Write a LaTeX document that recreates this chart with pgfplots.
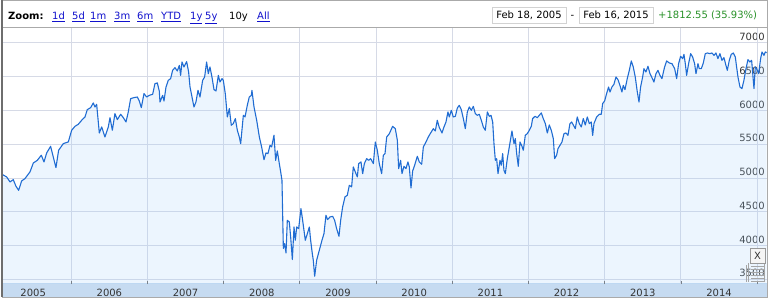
\documentclass[border=0pt]{standalone}
\usepackage{fontspec}
\setmainfont{DejaVu Sans}
\usepackage{pgfplots}
\pgfplotsset{compat=1.18}
\usepackage{pgfplotstable}

\definecolor{lineblue}{RGB}{32,108,210}
\definecolor{fillbase}{RGB}{160,205,250}
\definecolor{gridc}{RGB}{214,218,230}
\definecolor{bandblue}{RGB}{198,219,241}
\definecolor{linkblue}{RGB}{17,17,204}
\definecolor{upgreen}{RGB}{40,145,40}
\definecolor{framec}{RGB}{170,170,170}
\definecolor{framedark}{RGB}{110,110,110}
\definecolor{textgray}{RGB}{51,51,51}
\definecolor{boxgray}{RGB}{210,210,210}

\pgfplotstableread{
year close
2005.099 5050
2005.152 5016
2005.196 4942
2005.239 4976
2005.274 4878
2005.309 4818
2005.349 4957
2005.392 4991
2005.458 5090
2005.502 5223
2005.554 5262
2005.607 5337
2005.642 5238
2005.677 5371
2005.729 5470
2005.764 5312
2005.799 5154
2005.834 5411
2005.895 5509
2005.961 5534
2006.005 5707
2006.049 5766
2006.092 5796
2006.136 5855
2006.180 5904
2006.210 6013
2006.254 6042
2006.289 6112
2006.311 6052
2006.333 6092
2006.368 5667
2006.399 5756
2006.442 5608
2006.486 5756
2006.508 5894
2006.539 5707
2006.573 5954
2006.604 5865
2006.648 5944
2006.683 5894
2006.718 5830
2006.748 5978
2006.779 6176
2006.823 6191
2006.867 6200
2006.893 6141
2006.919 6042
2006.954 6250
2006.989 6200
2007.024 6225
2007.068 6240
2007.098 6398
2007.129 6408
2007.155 6289
2007.164 6126
2007.199 6225
2007.217 6141
2007.243 6348
2007.273 6447
2007.304 6472
2007.330 6595
2007.361 6635
2007.391 6585
2007.418 6669
2007.435 6521
2007.453 6719
2007.479 6645
2007.514 6724
2007.540 6571
2007.558 6350
2007.580 6225
2007.610 6052
2007.636 6126
2007.663 6299
2007.689 6200
2007.724 6447
2007.750 6497
2007.776 6719
2007.798 6546
2007.820 6645
2007.846 6497
2007.873 6309
2007.899 6289
2007.930 6521
2007.951 6422
2007.978 6472
2007.995 6447
2008.021 6250
2008.048 5904
2008.074 6028
2008.100 5781
2008.126 5806
2008.153 5880
2008.179 5707
2008.205 5608
2008.223 5509
2008.258 5929
2008.280 5904
2008.310 6077
2008.336 6200
2008.363 6225
2008.371 6299
2008.398 6052
2008.433 5855
2008.468 5608
2008.498 5460
2008.529 5272
2008.555 5371
2008.581 5361
2008.608 5485
2008.629 5460
2008.660 5633
2008.682 5262
2008.704 5401
2008.730 5213
2008.748 5090
2008.765 4966
2008.783 3956
2008.800 4029
2008.818 3890
2008.835 4374
2008.861 4349
2008.879 4127
2008.901 3792
2008.923 4275
2008.940 4078
2008.958 4275
2008.984 4251
2009.014 4547
2009.036 4374
2009.071 4078
2009.098 4176
2009.124 4275
2009.141 4078
2009.163 3880
2009.176 3782
2009.194 3545
2009.220 3782
2009.255 3930
2009.290 4078
2009.316 4176
2009.342 4448
2009.364 4384
2009.395 4423
2009.430 4433
2009.456 4374
2009.482 4251
2009.513 4137
2009.535 4374
2009.561 4571
2009.592 4720
2009.622 4744
2009.649 4892
2009.679 4868
2009.701 5164
2009.727 5090
2009.754 5016
2009.771 5213
2009.802 5238
2009.824 5065
2009.846 5213
2009.876 5287
2009.902 5262
2009.929 5287
2009.964 5213
2009.990 5534
2010.016 5411
2010.042 5213
2010.073 5065
2010.095 5337
2010.117 5361
2010.139 5608
2010.174 5657
2010.217 5766
2010.252 5731
2010.279 5559
2010.296 5139
2010.322 5262
2010.340 5065
2010.366 5174
2010.392 5139
2010.418 5238
2010.436 5164
2010.458 4853
2010.480 5105
2010.506 5189
2010.541 5322
2010.567 5238
2010.598 5203
2010.620 5460
2010.655 5534
2010.685 5608
2010.716 5667
2010.751 5731
2010.777 5696
2010.803 5855
2010.830 5746
2010.865 5667
2010.891 5756
2010.917 5830
2010.943 5978
2010.961 5904
2010.987 6003
2011.013 5904
2011.040 5914
2011.066 6037
2011.092 6077
2011.118 6013
2011.145 5880
2011.171 5731
2011.197 5978
2011.223 6052
2011.250 6003
2011.276 6062
2011.302 5954
2011.328 5929
2011.355 5944
2011.381 5855
2011.407 5756
2011.433 5707
2011.460 5978
2011.486 5914
2011.508 5929
2011.530 5830
2011.547 5509
2011.565 5262
2011.582 5287
2011.600 5065
2011.626 5262
2011.643 5189
2011.661 5361
2011.678 5114
2011.696 5065
2011.722 5287
2011.748 5460
2011.783 5696
2011.810 5509
2011.827 5583
2011.845 5361
2011.866 5174
2011.888 5534
2011.910 5484
2011.932 5411
2011.958 5633
2011.984 5657
2012.011 5707
2012.037 5766
2012.054 5880
2012.085 5914
2012.116 5894
2012.142 5929
2012.168 5964
2012.194 5880
2012.221 5806
2012.247 5667
2012.273 5786
2012.299 5707
2012.326 5583
2012.343 5287
2012.369 5337
2012.387 5435
2012.413 5484
2012.439 5534
2012.466 5657
2012.492 5667
2012.518 5632
2012.544 5806
2012.566 5830
2012.588 5786
2012.614 5731
2012.640 5904
2012.667 5806
2012.693 5756
2012.719 5880
2012.745 5786
2012.772 5904
2012.798 5806
2012.824 5830
2012.842 5632
2012.859 5806
2012.894 5904
2012.929 5944
2012.955 5944
2012.973 6102
2012.999 6141
2013.025 6250
2013.051 6348
2013.069 6274
2013.095 6348
2013.121 6388
2013.148 6497
2013.174 6457
2013.200 6373
2013.226 6274
2013.244 6373
2013.266 6309
2013.296 6472
2013.323 6595
2013.349 6734
2013.375 6645
2013.401 6497
2013.428 6274
2013.450 6126
2013.471 6348
2013.498 6497
2013.515 6620
2013.541 6571
2013.568 6655
2013.594 6546
2013.620 6487
2013.646 6422
2013.673 6546
2013.699 6595
2013.725 6521
2013.751 6472
2013.786 6645
2013.813 6734
2013.848 6704
2013.883 6694
2013.918 6620
2013.944 6472
2013.970 6694
2013.996 6803
2014.023 6768
2014.040 6832
2014.058 6694
2014.075 6521
2014.101 6694
2014.128 6842
2014.154 6793
2014.180 6694
2014.198 6546
2014.224 6694
2014.241 6620
2014.268 6620
2014.294 6704
2014.320 6842
2014.346 6852
2014.381 6842
2014.408 6852
2014.434 6817
2014.460 6852
2014.486 6768
2014.512 6842
2014.539 6743
2014.565 6783
2014.591 6669
2014.609 6595
2014.635 6743
2014.661 6832
2014.687 6852
2014.714 6793
2014.731 6645
2014.749 6497
2014.775 6348
2014.801 6324
2014.827 6447
2014.854 6620
2014.880 6753
2014.906 6719
2014.928 6743
2014.941 6571
2014.959 6324
2014.976 6645
2014.994 6620
2015.020 6546
2015.046 6768
2015.064 6867
2015.090 6817
2015.107 6867
2015.125 6857
}\ftse

\begin{document}
\begin{tikzpicture}[font=\fontsize{10bp}{12bp}\selectfont]
\useasboundingbox (0bp,0bp) rectangle (772bp,301bp);
% bottom band
\fill[bandblue] (2bp,4bp) rectangle (768bp,17.5bp);
\begin{axis}[
  at={(3bp,17bp)}, anchor=south west,
  scale only axis, width=765bp, height=257bp,
  xmin=2005.104, xmax=2015.143,
  ymin=3430, ymax=7237,
  axis line style={draw=none},
  xtick={2005.5,2006.5,2007.5,2008.5,2009.5,2010.5,2011.5,2012.5,2013.5,2014.5},
  xticklabels={2005,2006,2007,2008,2009,2010,2011,2012,2013,2014},
  xtick pos=left,
  major tick length=0pt,
  xticklabel style={anchor=north, inner sep=0pt, yshift=-4.5bp, text=textgray, font=\fontsize{10bp}{12bp}\selectfont},
  extra x ticks={2006,2007,2008,2009,2010,2011,2012,2013,2014,2015},
  extra x tick labels={},
  extra x tick style={major tick length=3bp, tick align=inside,
     grid=major, tick style={draw=framedark, line width=0.8bp}},
  ytick={3500,4000,4500,5000,5500,6000,6500,7000},
  ymajorgrids,
  grid style={gridc, line width=1bp},
  ytick style={draw=none},
  yticklabel pos=right,
  yticklabel={\pgfmathprintnumber[fixed,precision=0,set thousands separator={},assume math mode=true]{\tick}},
  yticklabel style={anchor=south east, inner sep=0pt, xshift=-3bp, yshift=2bp, text=textgray, font=\fontsize{10bp}{12bp}\selectfont},
]
\addplot[draw=none, fill=fillbase, fill opacity=0.2] table[x=year,y=close] {\ftse} \closedcycle;
\addplot[lineblue, line width=1.1bp, line join=round] table[x=year,y=close] {\ftse};
\end{axis}
% frame
\draw[framec, line width=1bp] (2bp,300.5bp) -- (768bp,300.5bp);
\draw[framec, line width=1bp] (767.5bp,301bp) -- (767.5bp,3.5bp);
\draw[framec, line width=1bp] (2bp,273.5bp) -- (768bp,273.5bp);
\draw[framec, line width=1bp] (2bp,3.5bp) -- (768bp,3.5bp);
\draw[framedark, line width=1.5bp] (2.2bp,301bp) -- (2.2bp,3.5bp);
% header left
\node[anchor=base west, inner sep=0pt] at (8bp,281bp) {\textbf{Zoom:}};
\node[anchor=base west, inner sep=0pt, text=linkblue] at (52bp,281bp) {\underline{1d}};
\node[anchor=base west, inner sep=0pt, text=linkblue] at (72bp,281bp) {\underline{5d}};
\node[anchor=base west, inner sep=0pt, text=linkblue] at (90bp,281bp) {\underline{1m}};
\node[anchor=base west, inner sep=0pt, text=linkblue] at (114bp,281bp) {\underline{3m}};
\node[anchor=base west, inner sep=0pt, text=linkblue] at (137bp,281bp) {\underline{6m}};
\node[anchor=base west, inner sep=0pt, text=linkblue] at (161bp,281bp) {\underline{YTD}};
\node[anchor=base west, inner sep=0pt, text=linkblue] at (190bp,281bp) {\underline{1y}};
\node[anchor=base west, inner sep=0pt, text=linkblue] at (205bp,281bp) {\underline{5y}};
\node[anchor=base west, inner sep=0pt] at (229bp,281bp) {10y};
\node[anchor=base west, inner sep=0pt, text=linkblue] at (257bp,281bp) {\underline{All}};
% header right
\draw[boxgray, fill=white] (492bp,277.7bp) rectangle (566bp,293.7bp);
\node[anchor=base, inner sep=0pt] at (529bp,282bp) {Feb 18, 2005};
\node[anchor=base, inner sep=0pt] at (572.5bp,282bp) {-};
\draw[boxgray, fill=white] (579bp,277.7bp) rectangle (653bp,293.7bp);
\node[anchor=base, inner sep=0pt] at (616bp,282bp) {Feb 16, 2015};
\node[anchor=base west, inner sep=0pt, text=upgreen] at (658bp,282bp) {+1812.55 (35.93\%)};
% small close widget
\foreach \yy in {20,23,26,29,32,35} {\draw[gray!70, line width=0.6bp] (751bp,\yy bp) -- (765bp,\yy bp);}
\draw[gray!70, line width=0.6bp] (746bp,19bp) -- (746bp,36bp);
\draw[gray!70, line width=0.6bp] (748.5bp,19bp) -- (748.5bp,38bp);
\draw[gray!70, line width=0.6bp] (764.5bp,19bp) -- (764.5bp,38bp);
\draw[gray!80, fill=gray!8, line width=0.6bp] (750bp,38bp) rectangle (765bp,53bp);
\node[inner sep=0pt, text=textgray] at (757.5bp,45.5bp) {X};
\end{tikzpicture}
\end{document}
